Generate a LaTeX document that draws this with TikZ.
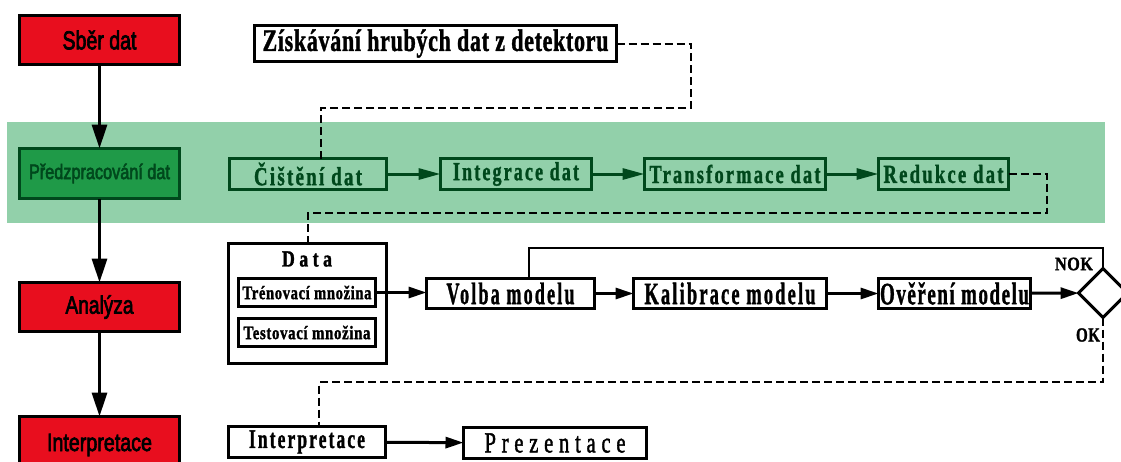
\documentclass[tikz,border=0pt]{standalone}
\usepackage{fontspec}
\usepackage{graphicx}
\setmainfont{Liberation Serif}
\newfontfamily\stepfont{Liberation Serif Bold}[FakeBold=1.5]
\newfontfamily\lightfont{Liberation Serif}[FakeBold=1.8]
\newfontfamily\stagefont{Liberation Sans}[FakeBold=3]
\usetikzlibrary{arrows.meta,shapes.geometric,calc}

\definecolor{stagered}{RGB}{232,14,30}
\definecolor{stagegreen}{RGB}{31,154,72}
\definecolor{bandgreen}{RGB}{146,208,170}
\definecolor{darkgreen}{RGB}{0,72,28}

% serif label: width, size, letter spacing, text
\newcommand\slabel[4]{\resizebox{#1pt}{\height}{\fontsize{#2}{#2}\selectfont\stepfont\addfontfeatures{LetterSpace=#3}#4}}
\newcommand\rlabel[4]{\resizebox{#1pt}{\height}{\fontsize{#2}{#2}\selectfont\lightfont\addfontfeatures{LetterSpace=#3}#4}}
% narrow sans label for the stage column
\newcommand\stlabel[3]{\resizebox{#1pt}{\height}{\fontsize{#2}{#2}\selectfont\stagefont #3}}

\tikzset{
  stage/.style={draw=black, line width=3pt, fill=stagered, minimum width=160pt,
    inner sep=0pt, outer sep=0pt},
  prestage/.style={draw=darkgreen, line width=3pt, fill=stagegreen, text=darkgreen,
    minimum width=160pt, inner sep=0pt, outer sep=0pt},
  stepbox/.style={draw=black, line width=3pt, fill=white, inner sep=0pt, outer sep=0pt},
  gstep/.style={draw=darkgreen, line width=3pt, text=darkgreen, inner sep=0pt, outer sep=0pt},
  flow/.style={line width=3pt, -{Triangle[length=18pt,width=11pt]}},
  gflow/.style={line width=3pt, draw=darkgreen, -{Triangle[length=22pt,width=11pt]}},
  stageflow/.style={line width=3pt, -{Triangle[length=24pt,width=15pt]}},
  dashlink/.style={line width=2pt, dash pattern=on 8pt off 4pt},
  loopline/.style={line width=2pt},
}

\begin{document}
\begin{tikzpicture}[x=1pt,y=-1pt]
\clip (0,0) rectangle (1121,461);
\useasboundingbox (0,0) rectangle (1121,461);
\fill[white] (0,0) rectangle (1121,461);

% preprocessing band
\fill[bandgreen] (7,122) rectangle (1105,223);

% stage column
\node[stage, minimum height=49pt] (sber) at (99.5,40) {\stlabel{74}{26}{Sběr dat}};
\node[prestage, minimum height=50pt] (pred) at (99.5,173.5) {\stlabel{141}{21}{Předzpracování dat}};
\node[stage, minimum height=49pt] (anal) at (99.5,307) {\stlabel{68}{25}{Analýza}};
\node[stage, minimum height=57pt] (interL) at (99.5,445) {\raisebox{3pt}{\stlabel{105}{25}{Interpretace}}};

\draw[stageflow] (sber) -- (pred);
\draw[stageflow] (pred) -- (anal);
\draw[stageflow] (anal) -- (interL);

% data acquisition
\node[stepbox, minimum width=362pt, minimum height=36pt] (ziskani) at (435.5,43.5)
  {\slabel{346}{31}{3}{Získávání hrubých dat z detektoru}};

% preprocessing steps
\node[gstep, minimum width=157pt, minimum height=31pt] (cist) at (308,174) {\slabel{108}{26}{12}{Čištění dat}};
\node[gstep, minimum width=151pt, minimum height=31pt] (integ) at (516,174) {\slabel{126}{26}{12}{Integrace dat}};
\node[gstep, minimum width=181pt, minimum height=31pt] (transf) at (735,174) {\slabel{171}{26}{12}{Transformace dat}};
\node[gstep, minimum width=130pt, minimum height=31pt] (redukce) at (943.5,174) {\slabel{120}{26}{12}{Redukce dat}};

\draw[gflow] (cist) -- (integ);
\draw[gflow] (integ) -- (transf);
\draw[gflow] (transf) -- (redukce);

% analysis
\node[stepbox, minimum width=158pt, minimum height=120pt] (data) at (307.5,303.5) {};
\node (datalbl) at (307,259) {\slabel{50}{23}{25}{Data}};
\node[stepbox, minimum width=137pt, minimum height=28pt] (tren) at (307,292.5) {\slabel{129}{19}{4}{Trénovací množina}};
\node[stepbox, minimum width=137pt, minimum height=28pt] (test) at (307,332.5) {\slabel{127}{19}{4}{Testovací množina}};

\node[stepbox, minimum width=168pt, minimum height=30pt] (volba) at (510.5,293.5) {\slabel{128}{31}{12}{Volba modelu}};
\node[stepbox, minimum width=193pt, minimum height=30pt] (kalib) at (730,293.5) {\slabel{171}{31}{12}{Kalibrace modelu}};
\node[stepbox, minimum width=152pt, minimum height=30pt] (over) at (954.5,293.5) {\slabel{149}{31}{8}{Ověření modelu}};
\node[draw, diamond, line width=3pt, fill=white, minimum width=49pt, minimum height=49pt,
  inner sep=0pt, outer sep=0pt] (dia) at (1103,293) {};

\node[inner sep=0pt] (nok) at (1074,264) {\slabel{38}{19}{3}{NOK}};
\node[inner sep=0pt] (ok) at (1088,335) {\slabel{24}{20}{3}{OK}};

\draw[flow] (tren.east) -- (tren.east -| volba.west);
\draw[flow] (volba) -- (kalib);
\draw[flow] (kalib) -- (over);
\draw[flow] (over) -- (dia);

% interpretation
\node[stepbox, minimum width=157pt, minimum height=31pt] (interR) at (307,442) {\slabel{116}{27}{12}{Interpretace}};
\node[stepbox, minimum width=183pt, minimum height=31pt] (prez) at (555,443) {\rlabel{141}{29}{28}{Prezentace}};
\draw[flow] (interR) -- (prez);

% dashed hand-overs between stages
\coordinate (d1) at (691,108);
\coordinate (d2) at (1047,213);
\coordinate (d3) at (319,382);
\draw[dashlink] (ziskani.east) -| (d1) -| ([xshift=13pt]cist.north);
\draw[dashlink] (redukce.east) -| (d2) -| (data.north);
\draw[dashlink] (dia.south) |- (d3) -- (d3 |- interR.north);

% NOK loop back to model choice
\coordinate (lp) at (529,248);
\draw[loopline] (dia.north) |- (lp) -- (lp |- volba.north);
\end{tikzpicture}
\end{document}
